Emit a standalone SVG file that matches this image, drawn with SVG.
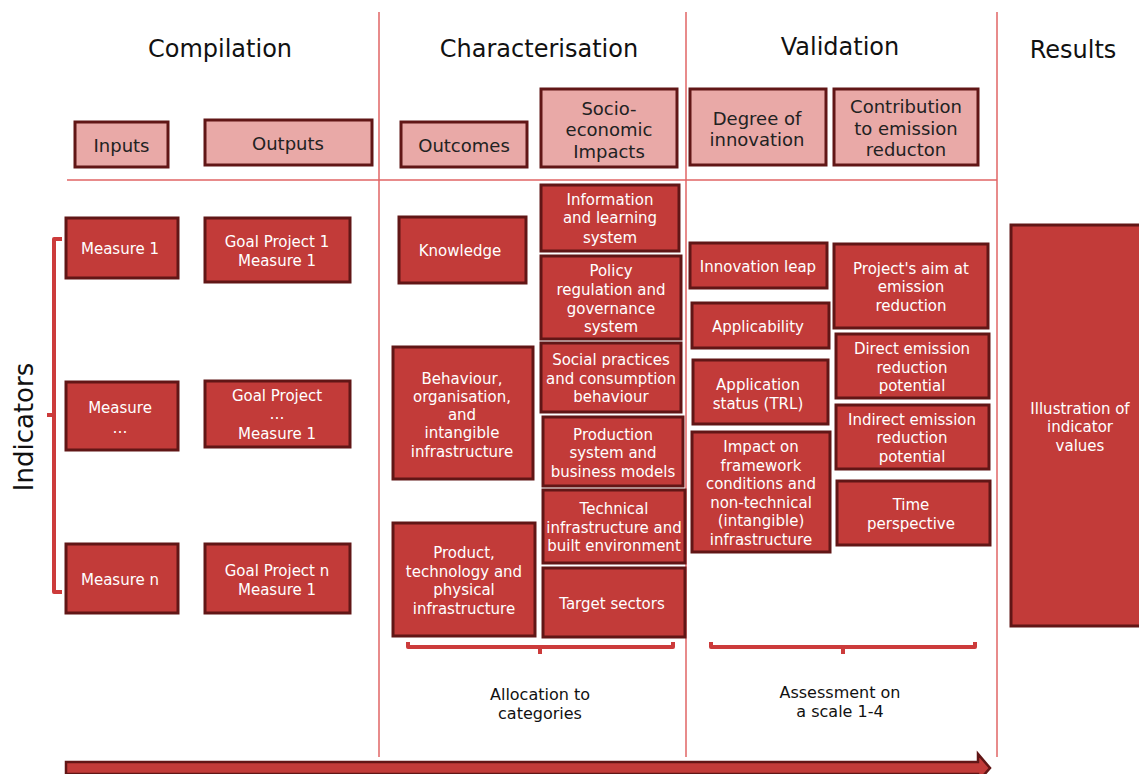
<svg xmlns="http://www.w3.org/2000/svg" width="1139" height="774" viewBox="0 0 1139 774">
<style>
.hdr{fill:#e9a9a7;stroke:#611616;stroke-width:3}
.box{fill:#c23b39;stroke:#611616;stroke-width:3}
text{font-family:"DejaVu Sans",sans-serif;text-anchor:middle;dominant-baseline:central}
.title{font-size:24px;fill:#111;dominant-baseline:auto}
.ht{font-size:18px;fill:#222}
.bt{font-size:15px;fill:#fff}
.lbl{font-size:16px;fill:#111}
.div{stroke:#e06464;stroke-width:1.5;fill:none}
.brk{stroke:#cc3b3b;stroke-width:4;fill:none;stroke-linejoin:round}
</style>
<rect width="1139" height="774" fill="#fff"/>
<g id="grid">
<line class="div" x1="379" y1="12" x2="379" y2="757"/>
<line class="div" x1="686" y1="12" x2="686" y2="757"/>
<line class="div" x1="997" y1="12" x2="997" y2="757"/>
<line class="div" x1="67" y1="180" x2="997" y2="180"/>
</g>
<g id="titles">
<text class="title" x="220" y="57">Compilation</text>
<text class="title" x="539" y="57">Characterisation</text>
<text class="title" x="840" y="55">Validation</text>
<text class="title" x="1073" y="58">Results</text>
<text class="title" transform="translate(33,427) rotate(-90)" style="font-size:26px">Indicators</text>
</g>
<g id="inputs"><rect class="hdr" x="75" y="122" width="93" height="45"/><text class="ht" x="121.5" y="145">Inputs</text></g>
<g id="outputs"><rect class="hdr" x="205" y="120" width="167" height="45"/><text class="ht" x="288" y="143">Outputs</text></g>
<g id="outcomes"><rect class="hdr" x="401" y="122" width="126" height="45"/><text class="ht" x="464" y="145">Outcomes</text></g>
<g id="socio"><rect class="hdr" x="541" y="89" width="136" height="78"/><text class="ht" x="609" y="108">Socio-</text><text class="ht" x="609" y="129">economic</text><text class="ht" x="609" y="151">Impacts</text></g>
<g id="degree"><rect class="hdr" x="690" y="89" width="136" height="76"/><text class="ht" x="757" y="118">Degree of</text><text class="ht" x="757" y="139">innovation</text></g>
<g id="contribution"><rect class="hdr" x="834" y="89" width="144" height="76"/><text class="ht" x="906" y="106">Contribution</text><text class="ht" x="906" y="128">to emission</text><text class="ht" x="906" y="149">reducton</text></g>

<g id="m1"><rect class="box" x="66" y="218" width="112" height="60"/><text class="bt" x="120" y="249">Measure 1</text></g>
<g id="g1"><rect class="box" x="205" y="218" width="145" height="64"/><text class="bt" x="277" y="242">Goal Project 1</text><text class="bt" x="277" y="261">Measure 1</text></g>
<g id="m2"><rect class="box" x="66" y="382" width="112" height="68"/><text class="bt" x="120" y="408">Measure</text><text class="bt" x="120" y="428">…</text></g>
<g id="g2"><rect class="box" x="205" y="381" width="145" height="66"/><text class="bt" x="277" y="396">Goal Project</text><text class="bt" x="277" y="414">…</text><text class="bt" x="277" y="434">Measure 1</text></g>
<g id="mn"><rect class="box" x="66" y="544" width="112" height="69"/><text class="bt" x="120" y="580">Measure n</text></g>
<g id="gn"><rect class="box" x="205" y="544" width="145" height="69"/><text class="bt" x="277" y="571">Goal Project n</text><text class="bt" x="277" y="590">Measure 1</text></g>

<g id="knowledge"><rect class="box" x="399" y="217" width="127" height="66"/><text class="bt" x="460" y="251">Knowledge</text></g>
<g id="info"><rect class="box" x="541" y="185" width="138" height="66"/><text class="bt" x="610" y="200">Information</text><text class="bt" x="610" y="218">and learning</text><text class="bt" x="610" y="238">system</text></g>
<g id="policy"><rect class="box" x="541" y="256" width="140" height="83"/><text class="bt" x="611" y="271">Policy</text><text class="bt" x="611" y="290">regulation and</text><text class="bt" x="611" y="309">governance</text><text class="bt" x="611" y="327">system</text></g>
<g id="behaviour"><rect class="box" x="393" y="347" width="140" height="132"/><text class="bt" x="462" y="379">Behaviour,</text><text class="bt" x="462" y="397">organisation,</text><text class="bt" x="462" y="415">and</text><text class="bt" x="462" y="433">intangible</text><text class="bt" x="462" y="452">infrastructure</text></g>
<g id="social"><rect class="box" x="541" y="343" width="140" height="69"/><text class="bt" x="611" y="360">Social practices</text><text class="bt" x="611" y="379">and consumption</text><text class="bt" x="611" y="397">behaviour</text></g>
<g id="production"><rect class="box" x="543" y="417" width="140" height="69"/><text class="bt" x="613" y="435">Production</text><text class="bt" x="613" y="453">system and</text><text class="bt" x="613" y="472">business models</text></g>
<g id="technical"><rect class="box" x="543" y="490" width="142" height="73"/><text class="bt" x="614" y="509">Technical</text><text class="bt" x="614" y="528">infrastructure and</text><text class="bt" x="614" y="546">built environment</text></g>
<g id="product"><rect class="box" x="393" y="523" width="142" height="113"/><text class="bt" x="464" y="553">Product,</text><text class="bt" x="464" y="572">technology and</text><text class="bt" x="464" y="590">physical</text><text class="bt" x="464" y="609">infrastructure</text></g>
<g id="target"><rect class="box" x="543" y="568" width="142" height="69"/><text class="bt" x="612" y="604">Target sectors</text></g>

<g id="leap"><rect class="box" x="690" y="243" width="137" height="45"/><text class="bt" x="758" y="267">Innovation leap</text></g>
<g id="applicability"><rect class="box" x="692" y="303" width="137" height="45"/><text class="bt" x="758" y="327">Applicability</text></g>
<g id="trl"><rect class="box" x="693" y="360" width="135" height="64"/><text class="bt" x="758" y="385">Application</text><text class="bt" x="758" y="404">status (TRL)</text></g>
<g id="impact"><rect class="box" x="692" y="432" width="138" height="120"/><text class="bt" x="761" y="447">Impact on</text><text class="bt" x="761" y="466">framework</text><text class="bt" x="761" y="484">conditions and</text><text class="bt" x="761" y="503">non-technical</text><text class="bt" x="761" y="521">(intangible)</text><text class="bt" x="761" y="540">infrastructure</text></g>
<g id="aim"><rect class="box" x="834" y="244" width="154" height="84"/><text class="bt" x="911" y="269">Project's aim at</text><text class="bt" x="911" y="287">emission</text><text class="bt" x="911" y="306">reduction</text></g>
<g id="direct"><rect class="box" x="836" y="334" width="153" height="64"/><text class="bt" x="912" y="349">Direct emission</text><text class="bt" x="912" y="368">reduction</text><text class="bt" x="912" y="386">potential</text></g>
<g id="indirect"><rect class="box" x="836" y="405" width="153" height="64"/><text class="bt" x="912" y="420">Indirect emission</text><text class="bt" x="912" y="438">reduction</text><text class="bt" x="912" y="457">potential</text></g>
<g id="time"><rect class="box" x="837" y="481" width="153" height="64"/><text class="bt" x="911" y="505">Time</text><text class="bt" x="911" y="524">perspective</text></g>
<g id="illustration"><rect class="box" x="1011" y="225" width="140" height="401"/><text class="bt" x="1080" y="409">Illustration of</text><text class="bt" x="1080" y="427">indicator</text><text class="bt" x="1080" y="446">values</text></g>

<g id="connectors">
<path class="brk" d="M62,239 H54 V592 H62 M54,415 H47"/>
<path class="brk" d="M408,642 V647 H673 V642 M540,647 V654"/>
<path class="brk" d="M711,642 V647 H975 V642 M843,647 V654"/>
<path d="M66,762 H978 V754 L990,768 L978,782 V774 H66 Z" fill="#c23b39" stroke="#611616" stroke-width="2.5"/>
</g>
<g id="labels">
<text class="lbl" x="540" y="694">Allocation to</text>
<text class="lbl" x="540" y="713">categories</text>
<text class="lbl" x="840" y="692">Assessment on</text>
<text class="lbl" x="840" y="711">a scale 1-4</text>
</g>
</svg>
